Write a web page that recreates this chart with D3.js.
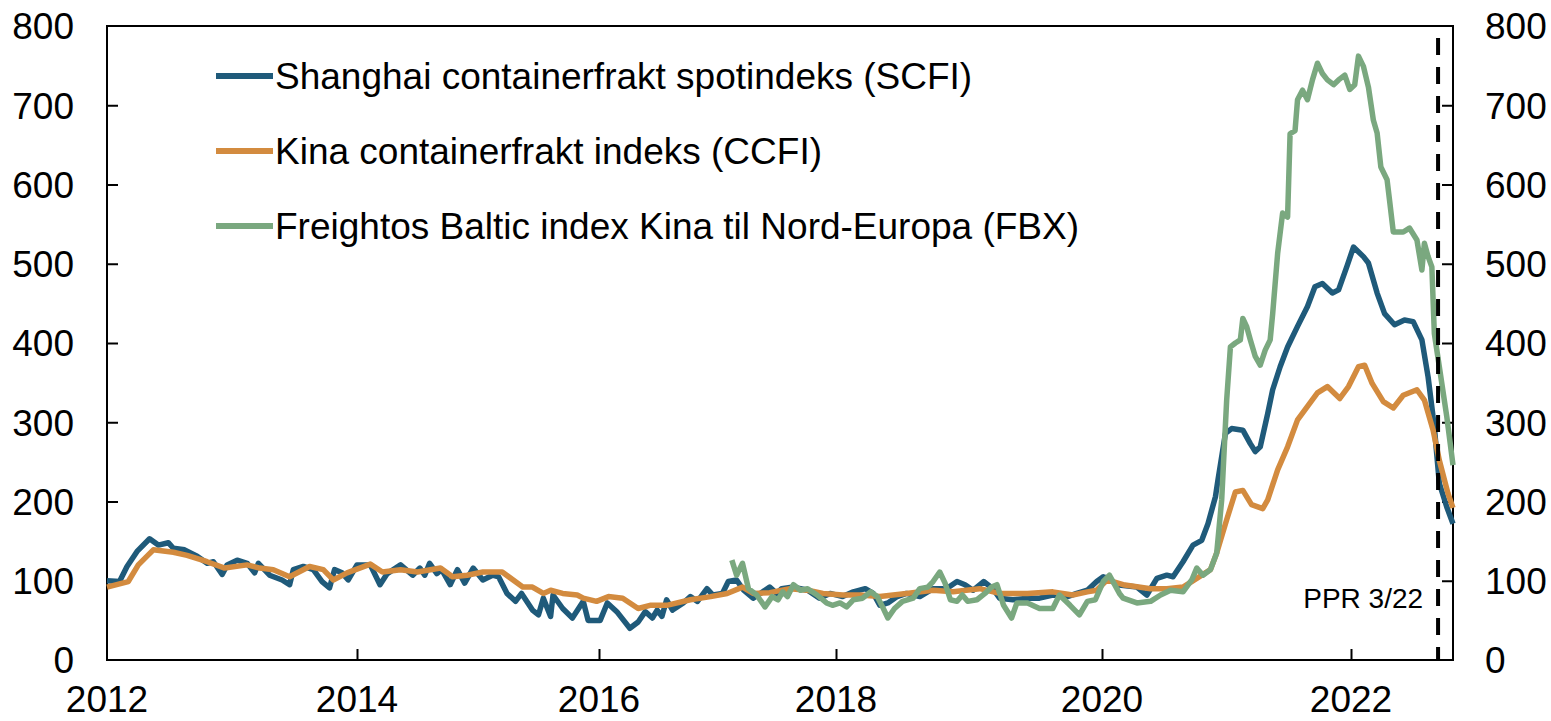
<!DOCTYPE html>
<html>
<head>
<meta charset="utf-8">
<script src="https://cdnjs.cloudflare.com/ajax/libs/d3/7.8.5/d3.min.js"></script>
<style>
  body { margin: 0; background: #fff; }
  svg { display: block; font-family: "Liberation Sans", Arial, sans-serif; }
</style>
</head>
<body>
<svg width="1551" height="721"></svg>
<script>
// decimal years + index values
var scfiDates = [2012.00,2012.10,2012.16,2012.24,2012.34,2012.41,2012.49,2012.53,2012.62,2012.72,2012.80,2012.85,2012.92,2012.96,
  2013.04,2013.12,2013.18,2013.21,2013.30,2013.40,2013.46,2013.49,2013.57,2013.65,2013.72,2013.78,2013.82,2013.88,2013.93,
  2014.00,2014.11,2014.19,2014.25,2014.36,2014.46,2014.52,2014.56,2014.60,2014.66,2014.70,2014.77,2014.83,2014.89,2014.96,
  2015.04,2015.12,2015.17,2015.24,2015.31,2015.36,2015.45,2015.50,2015.54,2015.60,2015.62,2015.70,2015.78,2015.87,2015.91,
  2016.01,2016.07,2016.15,2016.26,2016.33,2016.39,2016.45,2016.49,2016.53,2016.57,2016.62,2016.71,2016.77,2016.83,2016.91,2016.96,
  2017.04,2017.09,2017.16,2017.22,2017.30,2017.36,2017.44,2017.50,2017.54,2017.64,2017.76,2017.86,2017.95,
  2018.05,2018.13,2018.22,2018.28,2018.33,2018.39,2018.46,2018.53,2018.63,2018.73,2018.83,2018.91,2018.97,
  2019.03,2019.11,2019.18,2019.23,2019.33,2019.44,2019.53,2019.63,2019.74,2019.81,2019.89,2019.96,
  2020.01,2020.05,2020.12,2020.28,2020.36,2020.44,2020.52,2020.57,2020.65,2020.73,2020.80,2020.85,2020.91,2020.93,2020.99,
  2021.04,2021.13,2021.19,2021.23,2021.27,2021.33,2021.37,2021.43,2021.49,2021.57,2021.65,2021.71,2021.77,2021.85,2021.90,2021.97,
  2022.02,2022.10,2022.14,2022.21,2022.27,2022.35,2022.43,2022.50,2022.57,2022.62,2022.67,2022.71,2022.77,2022.82];
var scfiValues = [100,99,118,137,153,145,148,141,139,131,122,124,108,120,
  126,122,110,122,107,101,95,114,118,114,99,91,114,110,101,
  120,120,95,109,120,107,116,107,122,109,114,95,114,97,116,
  101,107,105,84,74,84,63,57,78,55,82,65,53,74,50,
  50,72,61,40,48,61,53,63,55,76,63,72,80,74,90,82,
  84,99,101,88,78,84,92,84,90,92,88,78,84,
  80,86,90,84,69,72,80,84,80,90,90,99,95,
  88,99,90,78,76,78,78,82,80,84,88,99,
  105,103,95,92,82,103,107,105,124,145,151,172,206,227,286,
  292,290,273,263,269,311,341,370,395,421,446,471,475,463,467,498,
  521,509,501,463,437,423,429,427,404,357,294,223,193,172];

var ccfiDates = [2012.00,2012.17,2012.25,2012.37,2012.53,2012.64,2012.80,2012.94,
  2013.12,2013.22,2013.33,2013.46,2013.62,2013.73,2013.81,2013.92,
  2014.11,2014.21,2014.36,2014.50,2014.69,2014.79,2014.91,
  2015.04,2015.20,2015.37,2015.45,2015.54,2015.60,2015.70,2015.82,2015.87,2015.98,
  2016.08,2016.20,2016.33,2016.43,2016.57,2016.77,2016.94,
  2017.08,2017.21,2017.30,2017.44,2017.61,2017.76,2017.89,
  2018.05,2018.18,2018.33,2018.53,2018.73,2018.88,2019.08,2019.23,2019.44,2019.63,2019.78,2019.89,2019.96,
  2020.04,2020.17,2020.39,2020.52,2020.65,2020.76,2020.87,2020.92,2021.00,
  2021.07,2021.13,2021.20,2021.29,2021.33,2021.41,2021.49,2021.57,2021.65,2021.73,2021.81,2021.91,2021.98,
  2022.06,2022.11,2022.17,2022.26,2022.34,2022.42,2022.53,2022.59,2022.66,2022.71,2022.78,2022.82];
var ccfiValues = [92,99,120,139,136,132,124,116,
  120,116,114,105,118,114,101,110,
  121,111,114,111,116,105,107,
  111,111,92,92,84,88,84,82,78,74,
  80,78,65,69,69,76,80,
  84,92,84,85,90,88,84,
  82,82,80,84,88,86,90,84,84,86,82,86,88,
  101,95,90,90,92,103,114,135,177,
  212,214,196,191,202,240,269,303,320,337,345,330,345,
  370,372,349,326,318,334,341,328,290,252,210,192];

var fbxDates = [2017.12,2017.16,2017.21,2017.26,2017.33,2017.40,2017.46,2017.51,2017.55,2017.59,2017.64,2017.70,2017.76,2017.84,2017.92,2017.97,
  2018.03,2018.08,2018.13,2018.20,2018.26,2018.31,2018.35,2018.39,2018.44,2018.50,2018.58,2018.63,2018.69,2018.73,2018.78,2018.82,2018.86,2018.91,2018.95,2018.99,
  2019.06,2019.12,2019.17,2019.21,2019.26,2019.32,2019.36,2019.44,2019.53,2019.63,2019.68,2019.76,2019.83,2019.89,2019.95,
  2020.01,2020.06,2020.14,2020.17,2020.28,2020.39,2020.47,2020.55,2020.65,2020.72,2020.76,2020.81,2020.87,2020.92,2020.96,2021.00,
  2021.03,2021.07,2021.11,2021.13,2021.16,2021.19,2021.23,2021.27,2021.31,2021.35,2021.37,2021.41,2021.45,2021.49,2021.51,2021.55,2021.57,
  2021.61,2021.65,2021.69,2021.73,2021.77,2021.81,2021.86,2021.90,2021.95,2021.99,
  2022.03,2022.06,2022.10,2022.14,2022.18,2022.21,2022.24,2022.29,2022.31,2022.34,2022.42,2022.47,2022.53,2022.57,2022.59,2022.62,2022.65,
  2022.67,2022.71,2022.77,2022.82];
var fbxValues = [126,107,122,90,82,67,80,76,86,80,95,88,90,82,72,69,
  72,67,76,78,86,80,67,53,65,74,78,90,92,99,111,97,76,74,82,74,
  76,84,92,95,69,53,72,72,65,65,82,69,57,74,76,
  99,107,84,78,72,74,82,88,86,101,116,107,114,135,202,328,
  395,400,404,431,421,404,383,372,391,404,437,513,564,559,664,668,707,
  719,707,732,753,740,732,726,732,738,720,
  726,762,749,723,681,665,622,606,580,540,540,545,530,492,526,509,496,
  412,370,307,246];

var seriesNames = ["Shanghai containerfrakt spotindeks (SCFI)", "Kina containerfrakt indeks (CCFI)", "Freightos Baltic index Kina til Nord-Europa (FBX)"];
var seriesColors = ["#1f5a7a", "#d38b3f", "#7aa87f"];
var yTicks = [0, 100, 200, 300, 400, 500, 600, 700, 800];
var xTickYears = [2012, 2014, 2016, 2018, 2020, 2022];
var pprDate = 2022.70;
var pprLabel = "PPR 3/22";

function yr(d) {
  var y = Math.floor(d);
  var a = new Date(y, 0, 1), b = new Date(y + 1, 0, 1);
  return new Date(+a + (d - y) * (b - a));
}

var svg = d3.select("svg");
var plotL = 107, plotR = 1453, plotT = 26, plotB = 660;

// tick marks in the source are not evenly spaced, so the time scale is piecewise
var x = d3.scaleTime()
  .domain(xTickYears.concat([2022.82]).map(yr))
  .range([plotL, 357, 599, 836, 1102, 1351, plotR]);
var y = d3.scaleLinear().domain([0, 800]).range([plotB, plotT]);

var fontSize = 37;

// frame
svg.append("rect")
  .attr("x", plotL).attr("y", plotT)
  .attr("width", plotR - plotL).attr("height", plotB - plotT)
  .attr("fill", "none").attr("stroke", "#000").attr("stroke-width", 2);

// inner ticks on both y axes
var yLeft = d3.axisRight(y).tickValues(yTicks.slice(1, -1)).tickSize(11).tickFormat("");
svg.append("g").attr("transform", "translate(" + plotL + ",0)").call(yLeft)
  .call(function(g) { g.select(".domain").remove(); g.selectAll("line").attr("stroke-width", 2); });
var yRight = d3.axisLeft(y).tickValues(yTicks.slice(1, -1)).tickSize(11).tickFormat("");
svg.append("g").attr("transform", "translate(" + plotR + ",0)").call(yRight)
  .call(function(g) { g.select(".domain").remove(); g.selectAll("line").attr("stroke-width", 2); });

svg.append("g").selectAll("text").data(yTicks).enter().append("text")
  .attr("x", 74).attr("y", function(d) { return y(d); }).attr("dy", "0.36em")
  .attr("text-anchor", "end").attr("font-size", fontSize).text(function(d) { return d; });
svg.append("g").selectAll("text").data(yTicks).enter().append("text")
  .attr("x", 1485).attr("y", function(d) { return y(d); }).attr("dy", "0.36em")
  .attr("text-anchor", "start").attr("font-size", fontSize).text(function(d) { return d; });

// x axis
var xAxis = d3.axisTop(x).tickValues(xTickYears.slice(1).map(yr)).tickSize(11).tickFormat("");
svg.append("g").attr("transform", "translate(0," + plotB + ")").call(xAxis)
  .call(function(g) { g.select(".domain").remove(); g.selectAll("line").attr("stroke-width", 2); });
svg.append("g").selectAll("text").data(xTickYears).enter().append("text")
  .attr("x", function(d) { return x(yr(d)); }).attr("y", 712)
  .attr("text-anchor", "middle").attr("font-size", fontSize).text(function(d) { return d; });

// lines
var line = d3.line()
  .x(function(d) { return x(yr(d[0])); })
  .y(function(d) { return y(d[1]); });

var series = [
  d3.zip(scfiDates, scfiValues),
  d3.zip(ccfiDates, ccfiValues),
  d3.zip(fbxDates, fbxValues)
];

svg.append("g").selectAll("path").data(series).enter().append("path")
  .attr("d", line)
  .attr("fill", "none")
  .attr("stroke", function(d, i) { return seriesColors[i]; })
  .attr("stroke-width", 5.5)
  .attr("stroke-linejoin", "round");

// PPR marker
svg.append("line")
  .attr("x1", x(yr(pprDate))).attr("x2", x(yr(pprDate)))
  .attr("y1", y(785)).attr("y2", plotB)
  .attr("stroke", "#000").attr("stroke-width", 4)
  .attr("stroke-dasharray", "17,12");
svg.append("text")
  .attr("x", x(yr(pprDate)) - 15).attr("y", 608)
  .attr("text-anchor", "end").attr("font-size", 28).text(pprLabel);

// legend
var legend = svg.append("g").selectAll("g").data(seriesNames).enter().append("g")
  .attr("transform", function(d, i) { return "translate(216," + (76 + i * 75) + ")"; });
legend.append("line")
  .attr("x1", 0).attr("x2", 57)
  .attr("stroke", function(d, i) { return seriesColors[i]; })
  .attr("stroke-width", 6);
legend.append("text")
  .attr("x", 59).attr("dy", "0.36em")
  .attr("font-size", fontSize).text(function(d) { return d; });
</script>
</body>
</html>
